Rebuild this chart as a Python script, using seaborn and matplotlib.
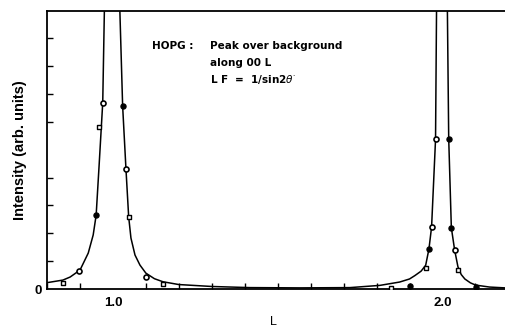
import numpy as np
import pandas as pd
import matplotlib
matplotlib.use("Agg")
import matplotlib.pyplot as plt
import seaborn as sns

# fitted curve (goes off-scale at the two peaks)
curve_L = [0.80, 0.847, 0.869, 0.899, 0.924, 0.939, 0.948, 0.957, 0.968, 0.973, 0.996,
           1.020, 1.0285, 1.0386, 1.0468, 1.0537, 1.066, 1.081, 1.099, 1.125, 1.151,
           1.199, 1.30, 1.415, 1.567, 1.719, 1.81, 1.870, 1.900, 1.916, 1.935, 1.949,
           1.959, 1.967, 1.979, 1.982, 1.998, 2.015, 2.019, 2.027, 2.037, 2.047, 2.057,
           2.068, 2.085, 2.101, 2.143, 2.19]
curve_I = [0.23, 0.32, 0.43, 0.68, 1.29, 1.94, 2.65, 4.44, 6.69, 10.0, 60.0,
           10.0, 6.56, 4.30, 2.59, 1.83, 1.22, 0.86, 0.57, 0.37, 0.26,
           0.16, 0.09, 0.05, 0.04, 0.05, 0.13, 0.25, 0.36, 0.48, 0.64, 0.85,
           1.44, 2.23, 5.37, 10.0, 60.0, 10.0, 5.40, 2.20, 1.40, 0.80, 0.52,
           0.36, 0.22, 0.14, 0.07, 0.04]

# measured points: open squares, open circles, filled dots
sq_L = [0.848, 0.957, 1.047, 1.150, 1.845, 1.949, 2.047]
sq_I = [0.23, 5.82, 2.59, 0.17, 0.04, 0.74, 0.68]
oc_L = [0.897, 0.969, 1.039, 1.099, 1.967, 1.979, 2.037]
oc_I = [0.65, 6.69, 4.30, 0.42, 2.23, 5.37, 1.40]
fc_L = [0.948, 1.029, 1.901, 1.959, 2.019, 2.027, 2.101]
fc_I = [2.65, 6.56, 0.11, 1.44, 5.40, 2.20, 0.08]

x_major = [1.0, 2.0]
x_major_labels = ["1.0", "2.0"]
x_minor = [0.8, 0.9, 1.1, 1.2, 1.3, 1.4, 1.5, 1.6, 1.7, 1.8, 1.9, 2.1]
y_labels = ["0"]

sns.set_theme(style="white")
plt.rcParams['font.family'] = ['Liberation Sans', 'DejaVu Sans']
plt.rcParams['mathtext.fontset'] = 'dejavusans'
plt.rcParams['text.color'] = 'black'
plt.rcParams['axes.labelcolor'] = 'black'
plt.rcParams['xtick.color'] = 'black'
plt.rcParams['ytick.color'] = 'black'

fig = plt.figure(figsize=(5.05, 3.28), dpi=100)
ax = fig.add_axes([47 / 505, 39 / 328, 1 - 47 / 505, (289 - 10.5) / 328])

curve = pd.DataFrame({"L": curve_L, "I": curve_I})
sns.lineplot(data=curve, x="L", y="I", ax=ax, color="black", lw=1.1,
             sort=False, estimator=None)
sns.scatterplot(x=sq_L, y=sq_I, ax=ax, marker="s", s=11, color="white",
                edgecolor="black", linewidth=1.0, zorder=3)
sns.scatterplot(x=oc_L, y=oc_I, ax=ax, marker="o", s=13, color="white",
                edgecolor="black", linewidth=1.2, zorder=3)
sns.scatterplot(x=fc_L, y=fc_I, ax=ax, marker="o", s=13, color="black",
                edgecolor="black", linewidth=1.0, zorder=3)

ax.set_xlim(0.7987, 2.19)
ax.set_ylim(0, 10)

ax.set_xticks(x_major)
ax.set_xticklabels(x_major_labels)
ax.set_xticks(x_minor, minor=True)
ax.set_yticks([0, 5])
ax.set_yticklabels(y_labels + [""])
ax.set_yticks([1, 2, 3, 4, 6, 7, 8, 9], minor=True)
ax.tick_params(axis="x", which="major", direction="in", length=5.5, width=1,
               color="black", labelcolor="black", labelsize=9.5, pad=6)
ax.tick_params(axis="x", which="minor", direction="in", length=4.5, width=1,
               color="black", bottom=True)
ax.tick_params(axis="y", which="major", direction="in", length=7, width=1,
               color="black", labelcolor="black", labelsize=9.5, pad=4)
ax.tick_params(axis="y", which="minor", direction="in", length=4.5, width=1,
               color="black", left=True)
for lab in ax.get_xticklabels() + ax.get_yticklabels():
    lab.set_fontweight("bold")

for side in ["left", "top", "bottom"]:
    ax.spines[side].set_visible(True)
    ax.spines[side].set_color("black")
    ax.spines[side].set_linewidth(1.3)
ax.spines["right"].set_visible(False)

ax.set_xlabel("L", fontsize=9, color="black")
ax.xaxis.label.set_va("center")
ax.xaxis.set_label_coords((273 - 47) / (505 - 47), -(322 - 289) / 278.5)
ax.set_ylabel("Intensity (arb. units)", fontsize=10.5, fontweight="bold",
              color="black")
ax.yaxis.label.set_va("center")
ax.yaxis.set_label_coords(-(47 - 20) / 458, 0.5)

fs = 7.5
fam = ["DejaVu Sans"]
fig.text(152 / 505, 1 - 46 / 328, "HOPG :", fontsize=fs, family=fam,
         fontweight="bold", va="center", ha="left", color="black")
fig.text(210 / 505, 1 - 46 / 328, "Peak over background", fontsize=fs, family=fam,
         fontweight="bold", va="center", ha="left", color="black")
fig.text(210 / 505, 1 - 63 / 328, "along 00 L", fontsize=fs, family=fam,
         fontweight="bold", va="center", ha="left", color="black")
fig.text(210 / 505, 1 - 80 / 328, r"L F  =  1/sin2$\theta^{\cdot}$", fontsize=fs,
         family=fam, fontweight="bold", va="center", ha="left", color="black")

fig.savefig("out.png", dpi=100, facecolor="white")
